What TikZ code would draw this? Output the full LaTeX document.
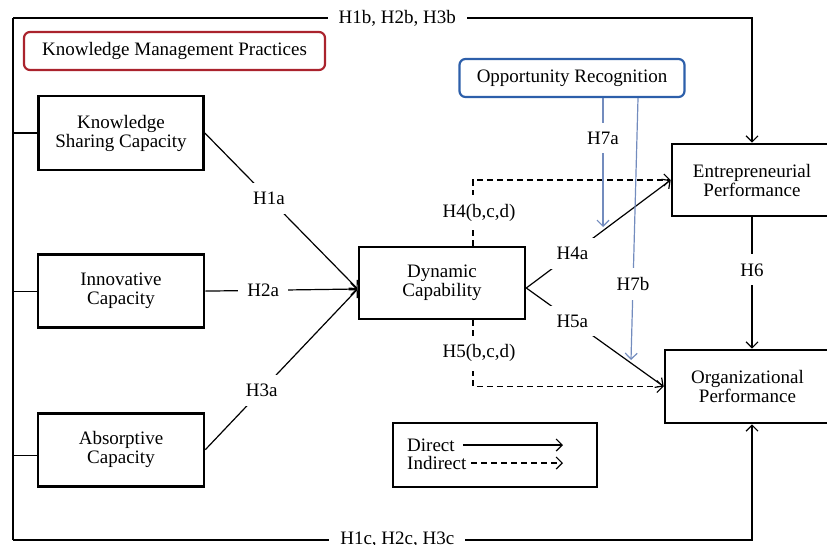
\documentclass[tikz,border=0pt]{standalone}
\usepackage{fontspec}
\setmainfont{Liberation Serif}
\usetikzlibrary{positioning,arrows.meta}

\definecolor{kmpred}{RGB}{170,35,45}
\definecolor{orblue}{RGB}{45,95,170}
\definecolor{modblue}{RGB}{115,140,190}

\begin{document}
\begin{tikzpicture}[x = 1pt, y = -1pt, font = \fontsize{19}{19}\selectfont]
   \tikzset{
     construct/.style = { draw,
                          line width     = 2.6pt,
                          align          = center,
                          inner sep      = 0pt,
                          minimum width  = 166pt,
                          minimum height = 73pt },
     group/.style     = { draw,
                          rounded corners = 6pt,
                          line width      = 2.2pt,
                          minimum height  = 38pt },
     hyp/.style       = { fill = white, inner sep = 9pt },
     legtext/.style   = { anchor = west, inner sep = 0pt },
     plain/.style     = { line width = 1.2pt },
     link/.style      = { plain, -{Straight Barb[length = 6pt, width = 12pt]} },
     indirect/.style  = { link, dash pattern = on 6pt off 4pt },
   }

   \useasboundingbox (0,0) rectangle (827,544);

   % constructs
   \node [group, draw = kmpred, minimum width = 301pt] (KMP) at (174.5,51)
       {Knowledge Management Practices};
   \node [construct, minimum width = 165pt, minimum height = 74pt] (KSC) at (121,133)
       {Knowledge\\Sharing Capacity};
   \node [construct, below = 82pt of KSC] (IC)
       {Innovative\\Capacity};
   \node [construct, below = 83pt of IC] (AC)
       {Absorptive\\Capacity};

   \node [construct, minimum height = 72pt] (DC) at (442,283)
       {Dynamic\\Capability};
   \node [construct, minimum width = 160pt, minimum height = 72pt] (EP) at (752,180)
       {Entrepreneurial\\Performance};
   \node [construct, minimum width = 165pt] (OP) at (747.5,386.5)
       {Organizational\\Performance};
   \node [group, draw = orblue, minimum width = 225pt] (OR) at (572,78)
       {Opportunity Recognition};

   % legend
   \node [construct, minimum width = 204pt, minimum height = 64pt] (LEG) at (495,455) {};
   \node [legtext] (Dir) at (407,445) {Direct};
   \node [legtext] (Ind) at (407,463) {Indirect};
   \coordinate (LegEnd) at (563,445);
   \draw [link]     ([xshift = 8pt]Dir.east) -- (Dir.east -| LegEnd);
   \draw [indirect] ([xshift = 5pt]Ind.east) -- (Ind.east -| LegEnd);

   % outer frame
   \coordinate (TL) at (13,18);
   \coordinate (BL) at (13,540);
   \draw [plain] (BL) -- (TL);
   \draw [link] (TL) -- node [hyp, pos = 0.52, inner xsep = 11pt] {H1b, H2b, H3b}
       (TL -| EP.north) -- (EP.north);
   \draw [link] (BL) -- node [hyp, pos = 0.52, inner xsep = 11pt] {H1c, H2c, H3c}
       (BL -| EP.south) -- (EP.south |- OP.south);
   \draw [plain] (KSC.west) -- (KSC.west -| TL);
   \draw [plain] (IC.west)  -- (IC.west -| TL);
   \draw [plain] ([yshift = -6pt]AC.west) -- ([yshift = -6pt]AC.west -| TL);

   % direct effects
   \coordinate (DCin)  at ([yshift = -6pt]DC.west);
   \coordinate (DCout) at ([yshift = -5pt]DC.east);
   \draw [link] (KSC.east) -- node [hyp, pos = 0.42] {H1a} (DCin);
   \draw [link] (IC.east)  -- node [hyp, pos = 0.38] {H2a} (DCin);
   \draw [link] (AC.east)  -- node [hyp, pos = 0.37] {H3a} (DCin);
   \draw [link] (DCout) -- node [hyp, pos = 0.32]  {H4a} (EP.west);
   \draw [link] (DCout) -- node [hyp, pos = 0.335] {H5a} (OP.west);
   \draw [link] (EP.south) -- node [hyp, pos = 0.4] {H6} (EP.south |- OP.north);

   % indirect effects
   \draw [indirect] ([xshift = 31pt]DC.north)
       -- node [hyp, xshift = 6pt] {H4(b,c,d)} ([xshift = 31pt]DC.north |- EP.west)
       -- (EP.west);
   \draw [indirect] ([xshift = 31pt]DC.south)
       -- node [hyp, xshift = 6pt] {H5(b,c,d)} ([xshift = 31pt]DC.south |- OP.west)
       -- (OP.west);

   % moderation
   \coordinate (H7aEnd) at (603,227);
   \coordinate (H7bEnd) at (631,360);
   \draw [link, draw = modblue] ([xshift = 31pt]OR.south)
       -- node [hyp, pos = 0.31] {H7a} (H7aEnd);
   \draw [link, draw = modblue] ([xshift = 66pt]OR.south)
       -- node [hyp, pos = 0.71] {H7b} (H7bEnd);
\end{tikzpicture}
\end{document}
